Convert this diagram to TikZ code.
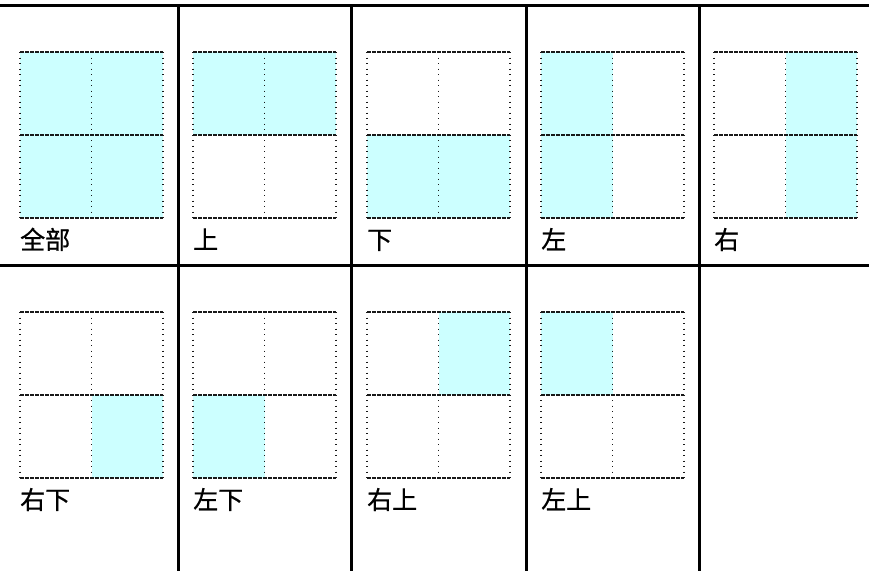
\documentclass[tikz,border=0pt]{standalone}
\usepackage{fontspec}
\newfontfamily\cjkfont[BoldFont={Noto Sans CJK SC}, BoldFeatures={FakeBold=0.7}]{Noto Sans CJK SC}
\usetikzlibrary{positioning}
\usetikzlibrary{calc}
\definecolor{selcyan}{HTML}{CCFFFF}

\begin{document}
\begin{tikzpicture}[x=1pt, y=-1pt,
    rule/.style={line width=3pt, black},
    hdash/.style={line width=1.2pt, dash pattern=on 3.5pt off 1.5pt, black!90},
    vdot/.style={line width=1.3pt, dash pattern=on 1pt off 4.5pt, black!90},
    caption/.style={anchor=base west, inner sep=0pt, font=\cjkfont\bfseries\fontsize{25}{25}\selectfont}]
      \useasboundingbox (0,0) rectangle (869,571);
      % Grid width and height
      \def\gw{143}
      \def\gh{166}
      % Table rules
      \draw[rule] (0,5) -- (869,5);
      \draw[rule] (0,265) -- (869,265);
      \foreach \x in {178,351,526,699} {
        \draw[rule] (\x,5) -- (\x,571);
      }
      % Panels: left edge / top edge / baseline / name / shaded quarters
      \foreach \ox/\oy/\by/\i/\txt/\quads in {
          20/52/249/1/全部/{0/0,1/0,0/1,1/1},
          193/52/249/2/上/{0/0,1/0},
          367/52/249/3/下/{0/1,1/1},
          541/52/249/4/左/{0/0,0/1},
          714/52/249/5/右/{1/0,1/1},
          20/312/509/6/右下/{1/1},
          193/312/509/7/左下/{0/1},
          367/312/509/8/右上/{1/0},
          541/312/509/9/左上/{0/0}} {
        % Shaded quarters
        \foreach \qx/\qy in \quads {
          \fill[selcyan] ({\ox+\qx*\gw/2},{\oy+\qy*\gh/2}) rectangle ++({\gw/2},{\gh/2});
        }
        % Dashed rows, dotted columns
        \foreach \k in {0,1,2} {
          \draw[hdash] (\ox,{\oy+\k*\gh/2}) -- ({\ox+\gw},{\oy+\k*\gh/2});
          \draw[vdot] ({\ox+\k*\gw/2},\oy) -- ({\ox+\k*\gw/2},{\oy+\gh});
        }
        \node[caption] (lbl\i) at (\ox,\by) {\txt};
      }
    \end{tikzpicture}
\end{document}
